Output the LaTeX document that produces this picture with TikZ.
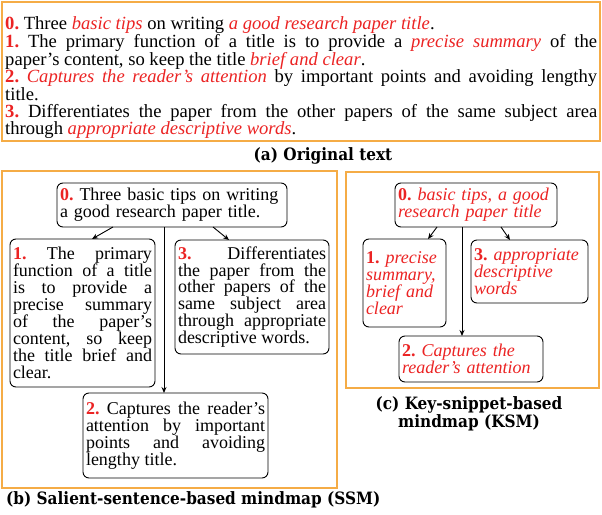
\documentclass[tikz,border=0pt]{standalone}
\usepackage{fontspec}
\setmainfont{Liberation Serif}
\newfontfamily\capfont{DejaVu Serif Condensed}
\usetikzlibrary{arrows.meta}
\definecolor{kred}{RGB}{235,35,35}
\definecolor{korange}{RGB}{245,172,70}
\hyphenpenalty=10000 \exhyphenpenalty=10000 \tolerance=10000 \hbadness=10000
\frenchspacing
\newcommand{\nm}[1]{\textcolor{kred}{\textbf{#1}}}
\newcommand{\hl}[1]{\textcolor{kred}{\textit{#1}}}
\begin{document}
\begin{tikzpicture}[x=1pt,y=-1pt,
 frame/.style={draw=korange, line width=1.3pt},
 mbox/.style={draw, rounded corners=6pt, line width=0.9pt, outer sep=0pt, inner xsep=3pt, inner ysep=1pt, anchor=north west, align=justify, font=\fontsize{18}{16.9}\selectfont},
 lbox/.style={mbox, align=left},
 conn/.style={-{Stealth[length=6pt,width=5pt]}, line width=0.9pt},
 captext/.style={font=\capfont\bfseries\fontsize{17}{18.5}\selectfont, inner sep=0pt}]
\useasboundingbox (0,0) rectangle (602,514);
% frames
\draw[frame] (2,2) rectangle (600,141);
\draw[frame] (2,171) rectangle (337,488);
\draw[frame] (346,172) rectangle (599,388);
% (a)
\node[anchor=north west, inner sep=0pt, text width=592pt, align=justify, font=\fontsize{18.6}{16.9}\selectfont] (orig) at (5,16.5)
 {\nm{0.} Three \hl{basic tips} on writing \hl{a good research paper title}.\\
  \nm{1.} The primary function of a title is to provide a \hl{precise summary} of the\linebreak paper's content, so keep the title \hl{brief and clear}.\\
  \nm{2.} \hl{Captures the reader's attention} by important points and avoiding lengthy\linebreak title.\\
  \nm{3.} Differentiates the paper from the other papers of the same subject area\linebreak through \hl{appropriate descriptive words}.};
\node[captext] (capa) at (323,156) {(a) Original text};
% (b)
\node[lbox, text width=224pt, minimum height=44pt] (b0) at (57,183)
 {\nm{0.} Three basic tips on writing\\a good research paper title.};
\node[mbox, text width=139pt, minimum height=148pt] (b1) at (10,239)
 {\nm{1.} The primary\linebreak function of a title\linebreak is to provide a\linebreak precise summary\linebreak of the paper's\linebreak content, so keep\linebreak the title brief and\linebreak clear.};
\node[mbox, text width=148pt, minimum height=114pt] (b3) at (175,240)
 {\nm{3.} Differentiates\linebreak the paper from the\linebreak other papers of the\linebreak same subject area\linebreak through appropriate\linebreak descriptive words.};
\node[mbox, text width=179pt, minimum height=85pt] (b2) at (83,393)
 {\nm{2.} Captures the reader's\linebreak attention by important\linebreak points and avoiding\linebreak lengthy title.};
\draw[conn] ([xshift=56pt]b0.south west) -- ([xshift=82pt]b1.north west);
\draw[conn] ([xshift=156pt]b0.south west) -- ([xshift=54pt]b3.north west);
\draw[conn] ([xshift=107pt]b0.south west) -- ([xshift=81pt]b2.north west);
\node[captext, anchor=west] (capb) at (6,500) {(b) Salient-sentence-based mindmap (SSM)};
% (c)
\node[lbox, text width=156pt, minimum height=44pt] (c0) at (395,183)
 {\nm{0.} \hl{basic tips, a good}\\\hl{research paper title}};
\node[lbox, text width=77pt, minimum height=88pt] (c1) at (363,239)
 {\nm{1.} \hl{precise}\\\hl{summary,}\\\hl{brief and}\\\hl{clear}};
\node[lbox, text width=111pt, minimum height=63pt] (c3) at (471,240)
 {\nm{3.} \hl{appropriate}\\\hl{descriptive}\\\hl{words}};
\node[lbox, text width=138pt, minimum height=46pt] (c2) at (399,336)
 {\nm{2.} \hl{Captures the}\\\hl{reader's attention}};
\draw[conn] ([xshift=42pt]c0.south west) -- ([xshift=65pt]c1.north west);
\draw[conn] ([xshift=106pt]c0.south west) -- ([xshift=39pt]c3.north west);
\draw[conn] ([xshift=67pt]c0.south west) -- ([xshift=63pt]c2.north west);
\node[captext, align=center] (capc) at (469,414) {(c) Key-snippet-based\\mindmap (KSM)};
\end{tikzpicture}
\end{document}
